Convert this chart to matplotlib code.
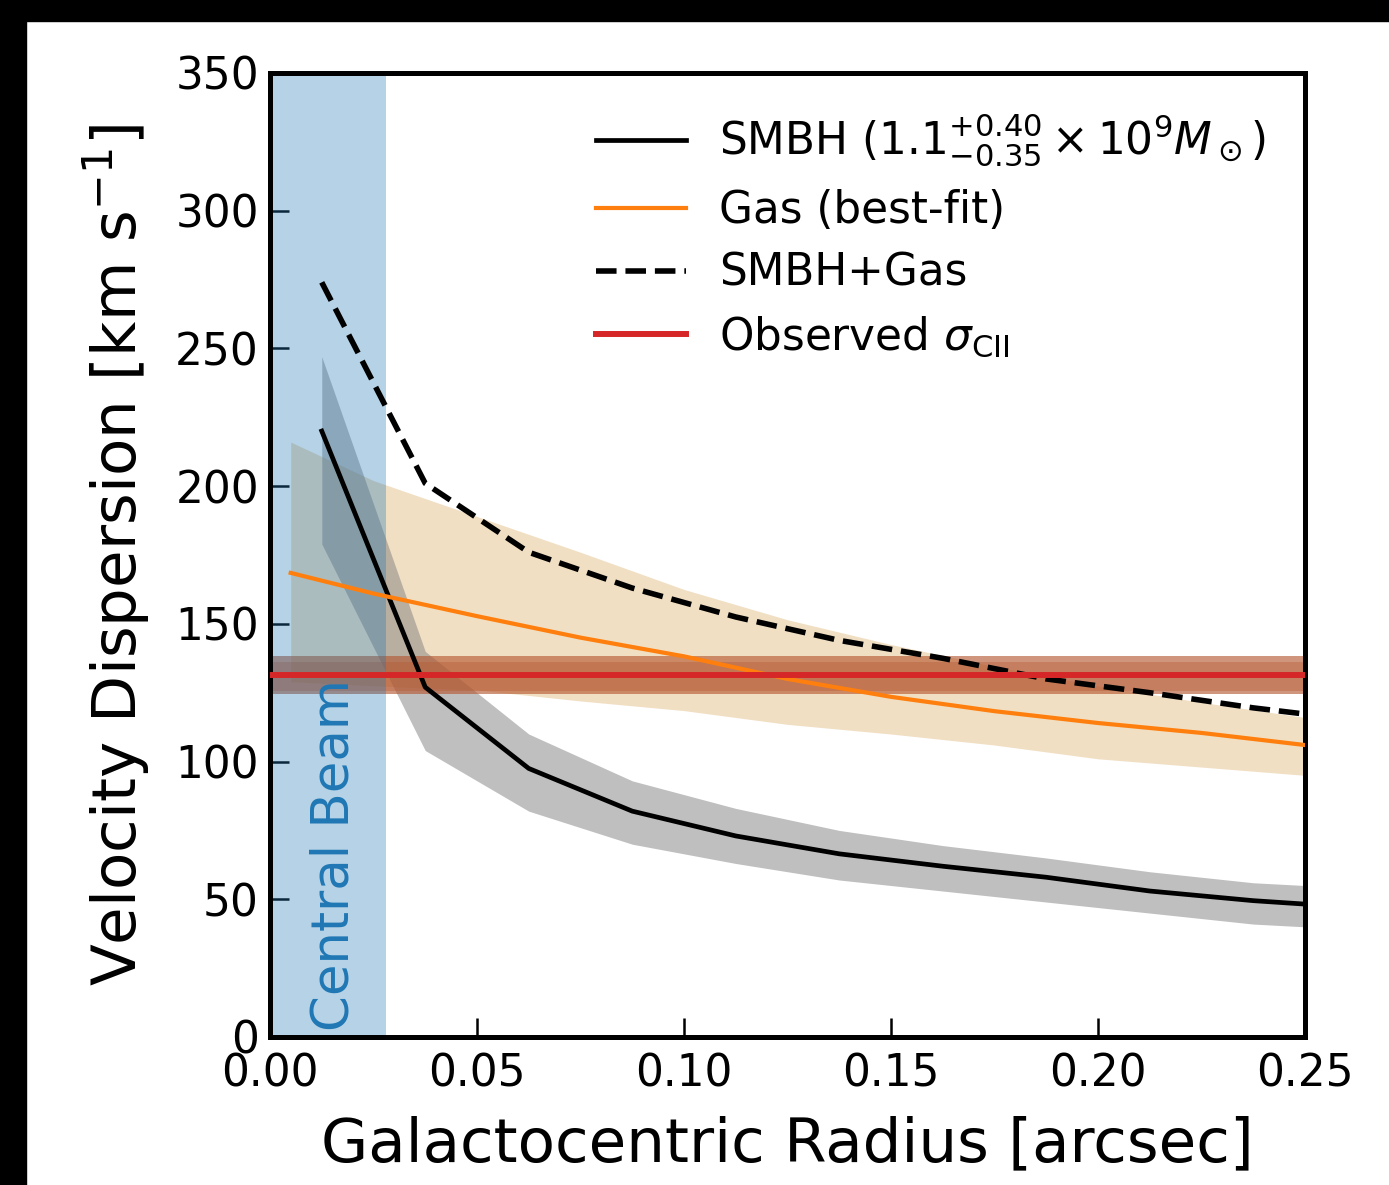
import matplotlib
matplotlib.use("Agg")
import matplotlib.pyplot as plt
from matplotlib.patches import Rectangle
import numpy as np

# --- data -------------------------------------------------------------
# SMBH model sampled on the radial grid [arcsec]
r_model = [0.0125, 0.0375, 0.0625, 0.0875, 0.1125, 0.1375, 0.1625, 0.1875, 0.2125, 0.2375, 0.2625]
sigma_bh = [220, 127, 97.5, 82, 73, 66.5, 62, 58, 53, 49.5, 47]
sigma_bh_hi = [247, 140, 110, 93, 83, 75, 69.5, 65, 60, 56, 54]
sigma_bh_lo = [179, 104, 82, 70, 63, 57, 53, 49, 45, 41, 39]
sigma_total = [274, 201, 176, 163, 152.5, 144, 137.5, 130, 125, 119.5, 115]

# gas (best-fit) model
r_gas = [0.005, 0.025, 0.05, 0.075, 0.1, 0.125, 0.15, 0.175, 0.2, 0.225, 0.25]
sigma_gas = [168.5, 161, 152.8, 145, 138.2, 130, 123.5, 118.3, 114, 110.4, 106]
sigma_gas_hi = [216, 202, 189, 176, 162.5, 151.5, 142.5, 134.5, 127.5, 121.5, 116]
sigma_gas_lo = [129, 127.5, 126, 122, 118.5, 113.5, 110, 106, 101, 98, 95]

# observed [CII] dispersion and its uncertainty ranges
sigma_obs = 131.4
sigma_obs_outer = (124.5, 138.3)
sigma_obs_inner = (125.7, 136.3)

beam_radius = 0.028

x_ticks = [0.00, 0.05, 0.10, 0.15, 0.20, 0.25]
y_ticks = [0, 50, 100, 150, 200, 250, 300, 350]

# --- figure -----------------------------------------------------------
W, H = 1389, 1185
fig = plt.figure(figsize=(W / 100, H / 100), dpi=100)
fig.patch.set_facecolor("white")
ax = fig.add_axes([270 / W, 1 - 1037 / H, (1305 - 270) / W, (1037 - 73) / H])

# dark frame along the top and left edges of the canvas
fig.patches.append(Rectangle((0, 1 - 21 / H), 1, 21 / H, transform=fig.transFigure,
                             color="black", zorder=0))
fig.patches.append(Rectangle((0, 0), 26 / W, 1, transform=fig.transFigure,
                             color="black", zorder=0))

# uncertainty bands
ax.fill_between(r_gas, sigma_gas_lo, sigma_gas_hi, color="#f1dfc3", lw=0, zorder=1)
ax.fill_between(r_model, sigma_bh_lo, sigma_bh_hi, color="0.5", alpha=0.5, lw=0, zorder=1.5)
ax.axhspan(*sigma_obs_outer, color="#b4552d", alpha=0.62, lw=0, zorder=1.6)
ax.axhspan(*sigma_obs_inner, color="#b4552d", alpha=0.35, lw=0, zorder=1.6)

# central beam
ax.axvspan(0, beam_radius, color="C0", alpha=0.33, lw=0, zorder=2)
ax.text(0.0155, 2, "Central Beam", rotation=90, ha="center", va="bottom",
        color="C0", fontsize=37, zorder=4)

# model curves
ax.plot(r_model, sigma_bh, color="black", lw=3.4, zorder=3,
        label=r"SMBH ($1.1^{+0.40}_{-0.35}\times10^9M_\odot$)")
ax.plot(r_gas, sigma_gas, color="C1", lw=3.0, zorder=3, label="Gas (best-fit)")
ax.plot(r_model, sigma_total, color="black", lw=4.0, ls="--", zorder=3, label="SMBH+Gas")
ax.axhline(sigma_obs, color="C3", lw=4.3, zorder=3, label=r"Observed $\sigma_{\rm CII}$")

ax.set_xlim(0, 0.25)
ax.set_ylim(0, 350)
ax.set_xticks(x_ticks)
ax.set_xticklabels([f"{t:.2f}" for t in x_ticks])
ax.set_yticks(y_ticks)

for s in ax.spines.values():
    s.set_linewidth(3.6)
ax.tick_params(direction="in", length=14, width=1.8, labelsize=31.5,
               top=False, right=False)
ax.tick_params(axis="x", pad=11)
ax.tick_params(axis="y", pad=8)

ax.set_xlabel("Galactocentric Radius [arcsec]", fontsize=44)
ax.set_ylabel(r"Velocity Dispersion [km s$^{-1}$]", fontsize=44)
ax.xaxis.set_label_coords(0.5, -0.081)
ax.yaxis.set_label_coords(-0.114, 0.5)

ax.legend(loc="upper right", frameon=False, fontsize=31.5, handlelength=2.05,
          handletextpad=0.75, labelspacing=0.45)

fig.savefig("out.png", dpi=100, facecolor=fig.get_facecolor())
